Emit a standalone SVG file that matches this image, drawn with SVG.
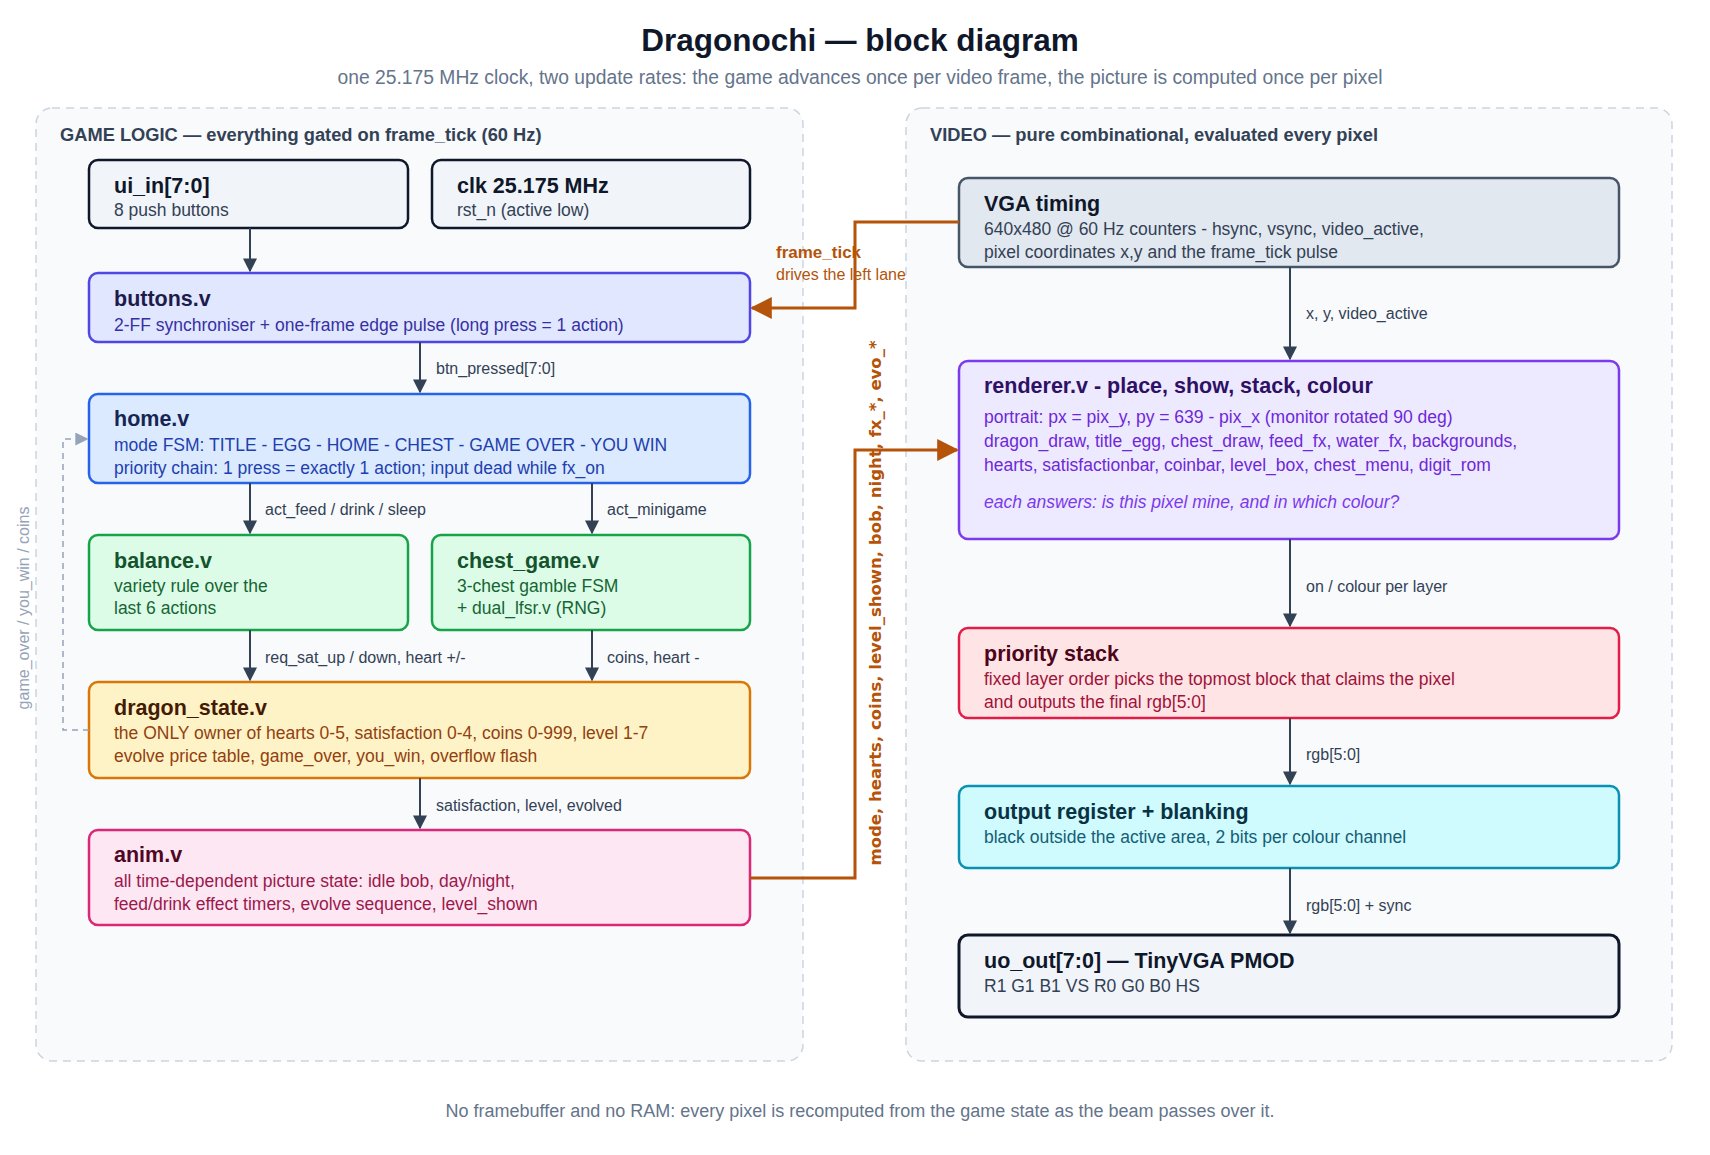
<svg xmlns="http://www.w3.org/2000/svg" width="1710" height="1155" viewBox="0 0 1710 1155">
<defs>
<marker id="ad" viewBox="0 0 10 10" refX="9" refY="5" markerWidth="14" markerHeight="14" markerUnits="userSpaceOnUse" orient="auto"><path d="M0,0L10,5L0,10z" fill="#334155"/></marker>
<marker id="ao" viewBox="0 0 10 10" refX="9" refY="5" markerWidth="22" markerHeight="22" markerUnits="userSpaceOnUse" orient="auto"><path d="M0,0L10,5L0,10z" fill="#b45309"/></marker>
<marker id="ag" viewBox="0 0 10 10" refX="9" refY="5" markerWidth="13" markerHeight="13" markerUnits="userSpaceOnUse" orient="auto"><path d="M0,0L10,5L0,10z" fill="#94a3b8"/></marker>
</defs>
<style>
text{font-family:"Liberation Sans",Arial,sans-serif}
.t{font-size:21.5px;font-weight:bold}
.b{font-size:17.5px}
.el{font-size:16px;fill:#334155}
.lane{fill:#f8fafc;stroke:#cbd5e1;stroke-width:1.5;stroke-dasharray:8 6}
.lt{font-size:18.3px;font-weight:bold;fill:#334155}
.e{fill:none;stroke:#334155;stroke-width:2;marker-end:url(#ad)}
.o{fill:none;stroke:#b45309;stroke-width:3;marker-end:url(#ao)}
</style>
<rect width="1710" height="1155" fill="#fff"/>
<text x="860" y="51" text-anchor="middle" font-size="31.5" font-weight="bold" fill="#0f172a">Dragonochi — block diagram</text>
<text x="860" y="84" text-anchor="middle" font-size="19.3" fill="#64748b">one 25.175 MHz clock, two update rates: the game advances once per video frame, the picture is computed once per pixel</text>
<rect class="lane" x="36" y="108" width="767" height="953" rx="16"/>
<text class="lt" x="60" y="141">GAME LOGIC — everything gated on frame_tick (60 Hz)</text>
<rect class="lane" x="906" y="108" width="766" height="953" rx="16"/>
<text class="lt" x="930" y="141">VIDEO — pure combinational, evaluated every pixel</text>

<g id="ui_in"><rect x="89" y="160" width="319" height="68" rx="9" fill="#f1f5f9" stroke="#0f172a" stroke-width="2.5"/><text class="t" x="114" y="193" fill="#0f172a">ui_in[7:0]</text><text class="b" x="114" y="216" fill="#334155">8 push buttons</text></g>
<g id="clk"><rect x="432" y="160" width="318" height="68" rx="9" fill="#f1f5f9" stroke="#0f172a" stroke-width="2.5"/><text class="t" x="457" y="193" fill="#0f172a">clk 25.175 MHz</text><text class="b" x="457" y="216" fill="#334155">rst_n (active low)</text></g>
<g id="buttons"><rect x="89" y="273" width="661" height="69" rx="9" fill="#e0e7ff" stroke="#4f46e5" stroke-width="2.5"/><text class="t" x="114" y="306" fill="#1e1b4b">buttons.v</text><text class="b" x="114" y="331" fill="#3730a3">2-FF synchroniser + one-frame edge pulse (long press = 1 action)</text></g>
<g id="home"><rect x="89" y="394" width="661" height="89" rx="9" fill="#dbeafe" stroke="#2563eb" stroke-width="2.5"/><text class="t" x="114" y="426" fill="#172554">home.v</text><text class="b" x="114" y="451" fill="#1e40af">mode FSM: TITLE - EGG - HOME - CHEST - GAME OVER - YOU WIN</text><text class="b" x="114" y="474" fill="#1e40af">priority chain: 1 press = exactly 1 action; input dead while fx_on</text></g>
<g id="balance"><rect x="89" y="535" width="319" height="95" rx="9" fill="#dcfce7" stroke="#16a34a" stroke-width="2.5"/><text class="t" x="114" y="568" fill="#14532d">balance.v</text><text class="b" x="114" y="592" fill="#166534">variety rule over the</text><text class="b" x="114" y="614" fill="#166534">last 6 actions</text></g>
<g id="chest_game"><rect x="432" y="535" width="318" height="95" rx="9" fill="#dcfce7" stroke="#16a34a" stroke-width="2.5"/><text class="t" x="457" y="568" fill="#14532d">chest_game.v</text><text class="b" x="457" y="592" fill="#166534">3-chest gamble FSM</text><text class="b" x="457" y="614" fill="#166534">+ dual_lfsr.v (RNG)</text></g>
<g id="dragon_state"><rect x="89" y="682" width="661" height="96" rx="9" fill="#fef3c7" stroke="#d97706" stroke-width="2.5"/><text class="t" x="114" y="715" fill="#451a03">dragon_state.v</text><text class="b" x="114" y="739" fill="#92400e">the ONLY owner of hearts 0-5, satisfaction 0-4, coins 0-999, level 1-7</text><text class="b" x="114" y="762" fill="#92400e">evolve price table, game_over, you_win, overflow flash</text></g>
<g id="anim"><rect x="89" y="830" width="661" height="95" rx="9" fill="#fce7f3" stroke="#db2777" stroke-width="2.5"/><text class="t" x="114" y="862" fill="#500724">anim.v</text><text class="b" x="114" y="887" fill="#9d174d">all time-dependent picture state: idle bob, day/night,</text><text class="b" x="114" y="910" fill="#9d174d">feed/drink effect timers, evolve sequence, level_shown</text></g>

<g id="vga"><rect x="959" y="178" width="660" height="89" rx="9" fill="#e2e8f0" stroke="#475569" stroke-width="2.5"/><text class="t" x="984" y="211" fill="#0f172a">VGA timing</text><text class="b" x="984" y="235" fill="#334155">640x480 @ 60 Hz counters - hsync, vsync, video_active,</text><text class="b" x="984" y="258" fill="#334155">pixel coordinates x,y and the frame_tick pulse</text></g>
<g id="renderer"><rect x="959" y="361" width="660" height="178" rx="9" fill="#ede9fe" stroke="#7c3aed" stroke-width="2.5"/><text class="t" x="984" y="393" fill="#2e1065">renderer.v - place, show, stack, colour</text><text class="b" x="984" y="423" fill="#6d28d9">portrait: px = pix_y, py = 639 - pix_x (monitor rotated 90 deg)</text><text class="b" x="984" y="447" fill="#6d28d9">dragon_draw, title_egg, chest_draw, feed_fx, water_fx, backgrounds,</text><text class="b" x="984" y="471" fill="#6d28d9">hearts, satisfactionbar, coinbar, level_box, chest_menu, digit_rom</text><text class="b" x="984" y="508" fill="#7c3aed" font-style="italic">each answers: is this pixel mine, and in which colour?</text></g>
<g id="priority"><rect x="959" y="628" width="660" height="90" rx="9" fill="#ffe4e6" stroke="#e11d48" stroke-width="2.5"/><text class="t" x="984" y="661" fill="#4c0519">priority stack</text><text class="b" x="984" y="685" fill="#9f1239">fixed layer order picks the topmost block that claims the pixel</text><text class="b" x="984" y="708" fill="#9f1239">and outputs the final rgb[5:0]</text></g>
<g id="output"><rect x="959" y="786" width="660" height="82" rx="9" fill="#cffafe" stroke="#0891b2" stroke-width="2.5"/><text class="t" x="984" y="819" fill="#083344">output register + blanking</text><text class="b" x="984" y="843" fill="#155e75">black outside the active area, 2 bits per colour channel</text></g>
<g id="uo_out"><rect x="959" y="935" width="660" height="82" rx="9" fill="#f1f5f9" stroke="#0f172a" stroke-width="3"/><text class="t" x="984" y="968" fill="#0f172a">uo_out[7:0] — TinyVGA PMOD</text><text class="b" x="984" y="992" fill="#334155">R1 G1 B1 VS R0 G0 B0 HS</text></g>

<g id="connectors">
<path class="e" d="M250 228V271"/>
<path class="e" d="M420 342V392"/><text class="el" x="436" y="374">btn_pressed[7:0]</text>
<path class="e" d="M250 483V533"/><text class="el" x="265" y="515">act_feed / drink / sleep</text>
<path class="e" d="M592 483V533"/><text class="el" x="607" y="515">act_minigame</text>
<path class="e" d="M250 630V680"/><text class="el" x="265" y="663">req_sat_up / down, heart +/-</text>
<path class="e" d="M592 630V680"/><text class="el" x="607" y="663">coins, heart -</text>
<path class="e" d="M420 778V828"/><text class="el" x="436" y="811">satisfaction, level, evolved</text>
<path class="e" d="M1290 267V359"/><text class="el" x="1306" y="319">x, y, video_active</text>
<path class="e" d="M1290 539V626"/><text class="el" x="1306" y="592">on / colour per layer</text>
<path class="e" d="M1290 718V784"/><text class="el" x="1306" y="760">rgb[5:0]</text>
<path class="e" d="M1290 868V933"/><text class="el" x="1306" y="911">rgb[5:0] + sync</text>
<path class="o" d="M959 222H855V308H752"/>
<text x="776" y="258" font-size="17" font-weight="bold" fill="#b45309">frame_tick</text>
<text x="776" y="280" font-size="16" fill="#b45309">drives the left lane</text>
<path class="o" d="M750 878H855V450H957"/>
<text transform="translate(881,603) rotate(-90)" text-anchor="middle" font-size="16.5" font-weight="bold" fill="#b45309" style="font-family:'DejaVu Sans',sans-serif">mode, hearts, coins, level_shown, bob, night, fx_*, evo_*</text>
<path d="M89 730H63V439H87" fill="none" stroke="#94a3b8" stroke-width="1.5" stroke-dasharray="6 5" marker-end="url(#ag)"/>
<text transform="translate(29,608) rotate(-90)" text-anchor="middle" font-size="16" fill="#94a3b8">game_over / you_win / coins</text>
</g>
<text x="860" y="1117" text-anchor="middle" font-size="18" fill="#64748b">No framebuffer and no RAM: every pixel is recomputed from the game state as the beam passes over it.</text>
</svg>
